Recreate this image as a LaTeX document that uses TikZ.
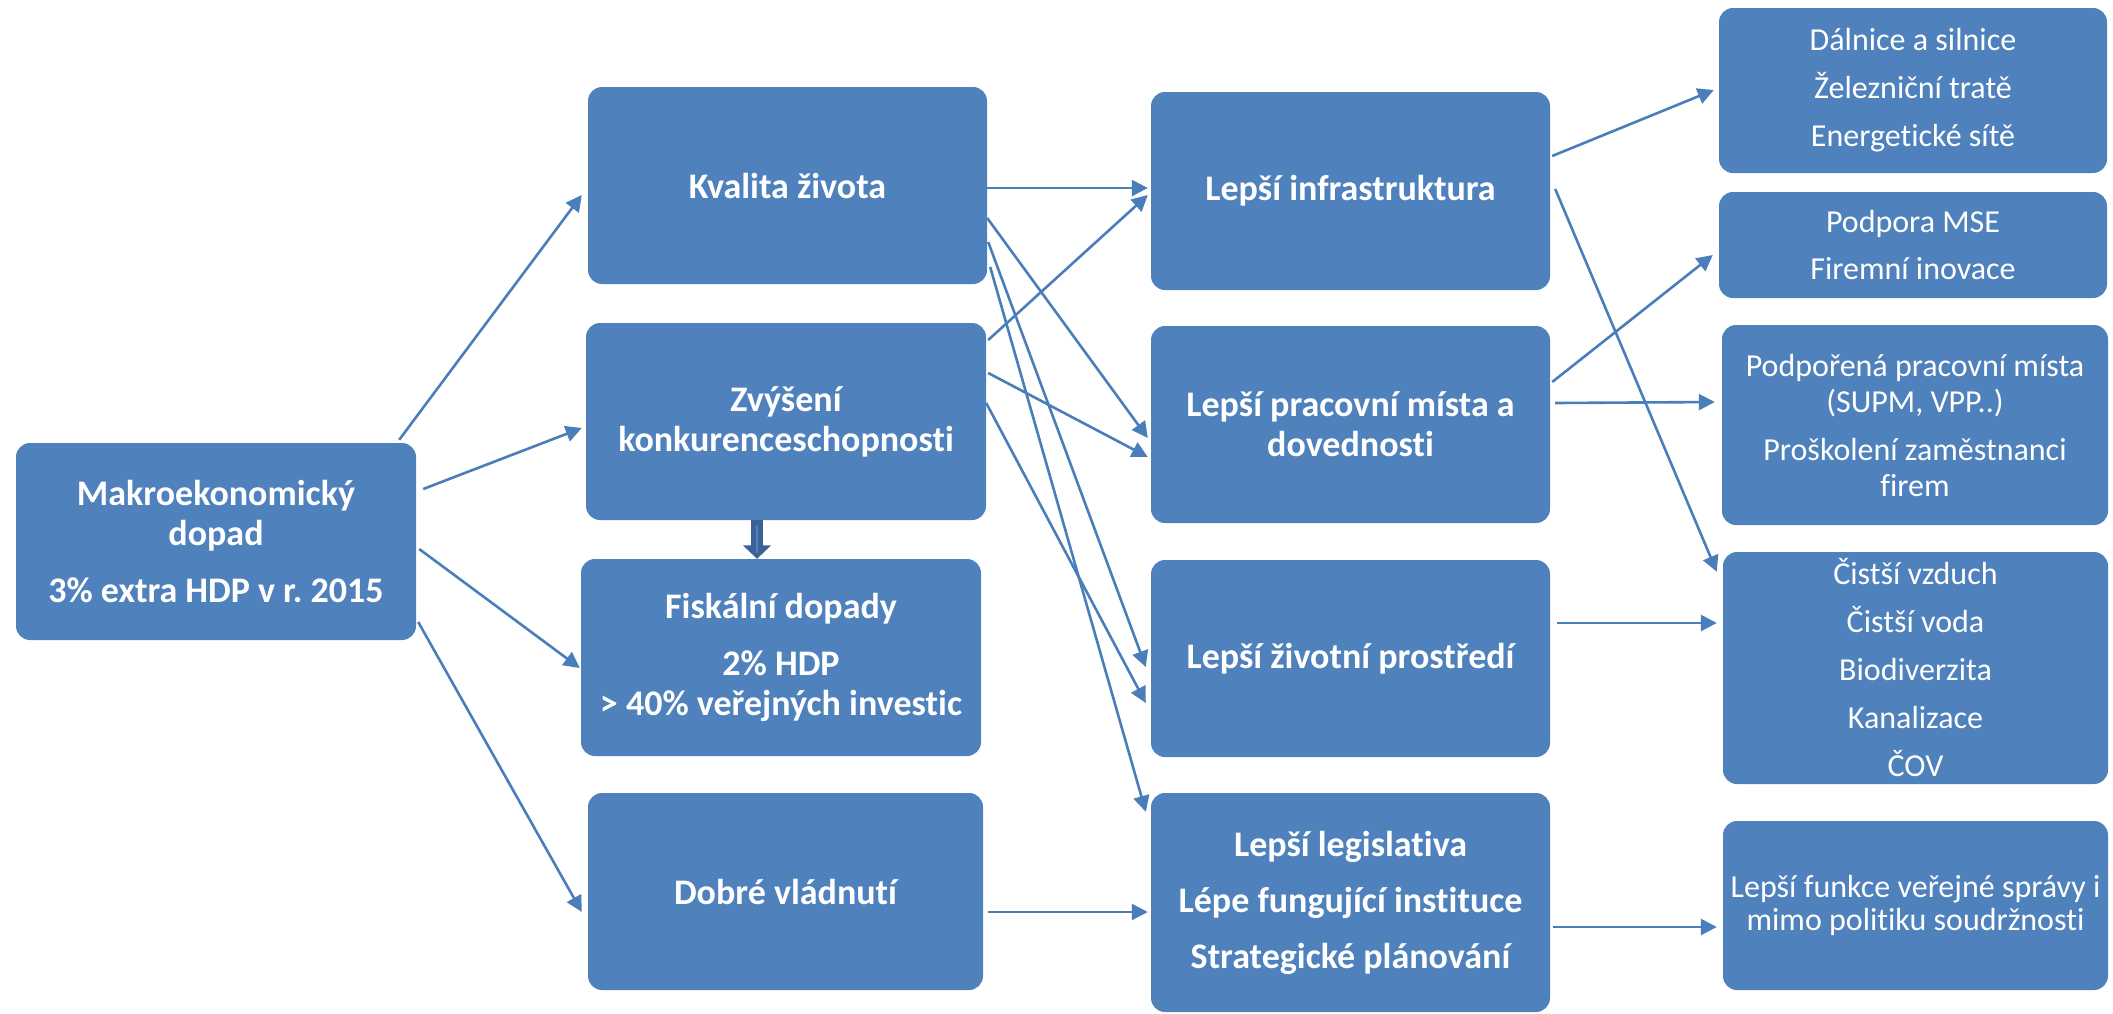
\documentclass[tikz,border=0pt]{standalone}
\usepackage{fontspec}
\setmainfont{Carlito}[Ligatures={NoCommon}]
\usetikzlibrary{arrows.meta,calc}
\definecolor{boxblue}{HTML}{4F81BD}
\definecolor{lineblue}{HTML}{4A7EBB}
\definecolor{darkarrow}{HTML}{3C6196}
\frenchspacing
\begin{document}
\begin{tikzpicture}[x=1pt,y=-1pt,
  box/.style={rectangle, rounded corners=14pt, fill=boxblue, draw=none, text=white, align=center, inner sep=0pt},
  bt/.style={font=\fontsize{36}{40}\selectfont\bfseries},
  rt/.style={font=\fontsize{32}{36}\selectfont},
  arr/.style={draw=lineblue, line width=2.6pt, -{Triangle[length=16pt,width=16pt]}}]
\useasboundingbox[fill=white] (0,0) rectangle (2113,1013);
% left column
\node[box,bt,minimum width=400pt,minimum height=197pt] (mk) at (216,541.5) {Makroekonomický\\dopad\\[17pt]3\% extra HDP v r. 2015};
% second column
\node[box,bt,minimum width=399pt,minimum height=197pt] (kv) at (787.5,185.5) {Kvalita života};
\node[box,bt,minimum width=400pt,minimum height=197pt] (zv) at (786,421.5) {Zvýšení\\konkurenceschopnosti};
\node[box,bt,minimum width=400pt,minimum height=197pt] (fi) at (781,657.5) {Fiskální dopady\\[17pt]2\% HDP\\> 40\% veřejných investic};
\node[box,bt,minimum width=395pt,minimum height=197pt] (db) at (785.5,891.5) {Dobré vládnutí};
% third column
\node[box,bt,minimum width=399pt,minimum height=198pt] (in) at (1350.5,191) {Lepší infrastruktura};
\node[box,bt,minimum width=399pt,minimum height=197pt] (pr) at (1350.5,424.5) {Lepší pracovní místa a\\dovednosti};
\node[box,bt,minimum width=399pt,minimum height=197pt] (zi) at (1350.5,658.5) {Lepší životní prostředí};
\node[box,bt,minimum width=399pt,minimum height=219pt] (le) at (1350.5,902.5) {Lepší legislativa\\[16pt]Lépe fungující instituce\\[16pt]Strategické plánování};
% right column
\node[box,rt,minimum width=388pt,minimum height=165pt] (r1) at (1913,90.5) {Dálnice a silnice\\[12pt]Železniční tratě\\[12pt]Energetické sítě};
\node[box,rt,minimum width=388pt,minimum height=106pt] (r2) at (1913,245) {Podpora MSE\\[11pt]Firemní inovace};
\node[box,rt,minimum width=386pt,minimum height=200pt] (r3) at (1915,425) {Podpořená pracovní místa\\(SUPM, VPP..)\\[12pt]Proškolení zaměstnanci\\firem};
\node[box,rt,minimum width=385pt,minimum height=232pt] (r4) at (1915.5,668) {Čistší vzduch\\[12pt]Čistší voda\\[12pt]Biodiverzita\\[12pt]Kanalizace\\[12pt]ČOV};
\node[box,rt,minimum width=385pt,minimum height=169pt] (r5) at (1915.5,905.5) {Lepší funkce veřejné správy i\\[-3pt]mimo politiku soudržnosti};
% thick arrow
\draw[darkarrow, line width=12.5pt, -{Triangle[length=13.5pt,width=27.5pt]}] ($(zv.south)+(-29,0)$) -- ($(fi.north)+(-24,0)$);
\draw[boxblue, line width=2.5pt] ($(zv.south)+(-29,5)$) -- ($(zv.south)+(-29,33)$);
% arrows from left box
\draw[arr] ($(mk.north east)+(-17,-3)$) -- ($(kv.west)+(-6,9.5)$);
\draw[arr] ($(mk.east)+(7,-52.5)$) -- ($(zv.west)+(-4,6.5)$);
\draw[arr] ($(mk.east)+(3,7.5)$) -- ($(fi.west)+(-1,10.5)$);
\draw[arr] ($(mk.east)+(2,80.5)$) -- ($(db.west)+(-6,20.5)$);
% arrows from second column
\draw[arr] ($(kv.east)+(0,2.5)$) -- ($(in.west)+(-3,-3)$);
\draw[arr] ($(kv.east)+(0,32.5)$) -- ($(pr.west)+(-3,13.5)$);
\draw[arr] ($(kv.east)+(1,56.5)$) -- ($(zi.west)+(-5,8.5)$);
\draw[arr] ($(kv.east)+(3,81.5)$) -- ($(le.north west)+(-5,19)$);
\draw[arr] ($(zv.east)+(2,-81.5)$) -- ($(in.west)+(-3,4)$);
\draw[arr] ($(zv.east)+(2,-48.5)$) -- ($(pr.west)+(-3,32.5)$);
\draw[arr] ($(zv.east)+(0,-18.5)$) -- ($(zi.west)+(-5,44.5)$);
\draw[arr] ($(db.east)+(5,20.5)$) -- ($(le.west)+(-3,9.5)$);
% arrows from third column
\draw[arr] ($(in.east)+(2,-35)$) -- ($(r1.west)+(-5,-0.5)$);
\draw[arr] ($(in.east)+(5,-2)$) -- ($(r4.north west)+(-6,20)$);
\draw[arr] ($(pr.east)+(2,-42.5)$) -- ($(r2.west)+(-6,10)$);
\draw[arr] ($(pr.east)+(5,-21.5)$) -- ($(r3.west)+(-7,-23)$);
\draw[arr] ($(zi.east)+(7,-35.5)$) -- ($(r4.west)+(-6,-45)$);
\draw[arr] ($(le.east)+(3,24.5)$) -- ($(r5.west)+(-6,21.5)$);
\end{tikzpicture}
\end{document}
